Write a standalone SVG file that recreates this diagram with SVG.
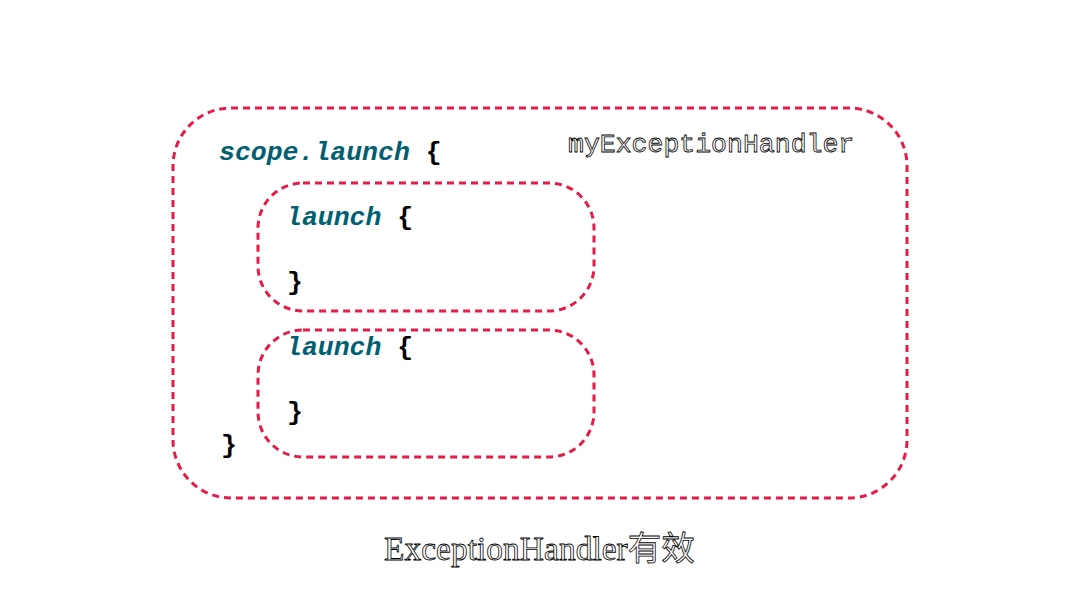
<svg xmlns="http://www.w3.org/2000/svg" width="1080" height="608" viewBox="0 0 1080 608">
<style>
.box{fill:none;stroke:#e31c48;stroke-width:3;stroke-dasharray:7 5}
.code{font-family:"Liberation Mono",monospace;font-size:26.5px;font-weight:bold;font-style:italic;fill:#006072}
.br{font-family:"Liberation Mono",monospace;font-size:26.5px;font-weight:bold;fill:#000}
.outl{fill:#fff;stroke:#000;stroke-width:0.8}
</style>
<rect width="1080" height="608" fill="#fff"/>
<g id="outer">
<rect class="box" x="173" y="108" width="734" height="390" rx="58" ry="58"/>
<text class="code" x="219" y="160">scope.launch <tspan class="br" font-style="normal">{</tspan></text>
<text class="br" x="221" y="453">}</text>
<text class="outl" x="568" y="152" font-family="Liberation Mono,monospace" font-size="26.5px">myExceptionHandler</text>
</g>
<g id="inner1">
<rect class="box" x="258" y="183" width="336" height="128" rx="45" ry="45"/>
<text class="code" x="286" y="225">launch <tspan class="br" font-style="normal">{</tspan></text>
<text class="br" x="287" y="290">}</text>
</g>
<g id="inner2">
<rect class="box" x="258" y="330" width="336" height="127" rx="45" ry="45"/>
<text class="code" x="286" y="355">launch <tspan class="br" font-style="normal">{</tspan></text>
<text class="br" x="287" y="420">}</text>
</g>
<g id="connectors"/>
<text class="outl" x="384" y="560" font-family="Liberation Serif,Noto Sans CJK SC,serif" font-size="33.5px">ExceptionHandler有效</text>
</svg>
